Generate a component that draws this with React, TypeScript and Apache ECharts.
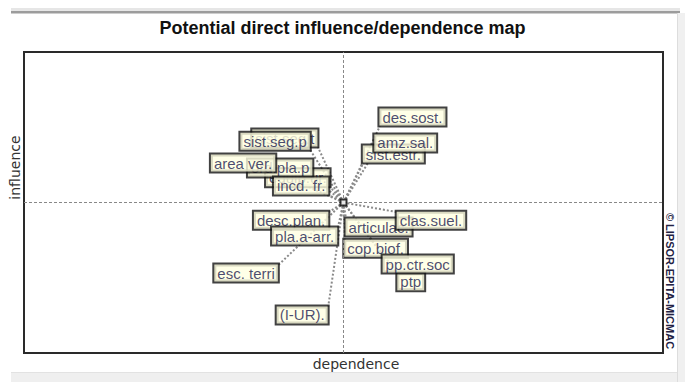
import React, { useEffect, useRef } from "react";
import * as echarts from "echarts";

// Variables (labels), dependence (x) and influence (y) positions of the label anchors
const variables = [
  "sist.seg.t", "sist.seg.p", "equip.ur.", "ord.pla.p", "area ver.", "incd. fr.",
  "des.sost.", "sist.estr.", "amz.sal.",
  "desc.plan.", "pla.a-arr.", "esc. terri", "(I-UR).",
  "articulac.", "clas.suel.", "cop.biof.", "ptp", "pp.ctr.soc",
];
const dependence = [
  46.0, 44.8, 47.9, 45.2, 39.4, 47.7,
  55.7, 53.1, 54.9,
  47.7, 49.1, 39.8, 47.6,
  50.4, 58.4, 50.2, 58.5, 56.2,
];
const influence = [
  68.4, 67.4, 55.2, 58.5, 60.1, 52.5,
  75.4, 63.1, 66.8,
  46.8, 41.5, 29.2, 15.3,
  44.5, 46.8, 37.5, 26.3, 32.2,
];
const centerDependence = 50;
const centerInfluence = 50;
const axisMin = 0;
const axisMax = 100;

const LABEL_FONT = "'Liberation Sans', Arial, sans-serif";
const AXIS_FONT = "'DejaVu Sans', Verdana, sans-serif";

export default function App() {
  const ref = useRef<HTMLDivElement>(null);
  useEffect(() => {
    if (!ref.current) return;
    const chart = echarts.init(ref.current, null, { renderer: "svg" });

    const labelData = variables.map((name, i) => {
      const right = dependence[i] >= centerDependence;
      const up = influence[i] >= centerInfluence;
      return {
        name,
        value: [dependence[i], influence[i]],
        label: {
          align: right ? "left" : "right",
          verticalAlign: up ? "bottom" : "top",
        },
      };
    });

    const lineData = variables.map((_, i) => ({
      coords: [
        [centerDependence, centerInfluence],
        [dependence[i], influence[i]],
      ],
    }));

    chart.setOption({
      animation: false,
      backgroundColor: "#ffffff",
      title: {
        text: "Potential direct influence/dependence map",
        left: "center",
        top: 14,
        textStyle: {
          fontFamily: LABEL_FONT,
          fontSize: 18,
          fontWeight: "bold",
          color: "#111111",
        },
      },
      grid: {
        left: 24,
        top: 52,
        width: 639,
        height: 301,
        show: true,
        borderColor: "#2a2a2a",
        borderWidth: 2,
        backgroundColor: "#ffffff",
      },
      xAxis: {
        type: "value",
        min: axisMin,
        max: axisMax,
        name: "dependence",
        nameLocation: "middle",
        nameGap: 4,
        nameTextStyle: {
          fontFamily: AXIS_FONT,
          fontSize: 14,
          color: "#333333",
          padding: [0, 0, 0, 25],
        },
        axisLine: { show: false },
        axisTick: { show: false },
        axisLabel: { show: false },
        splitLine: { show: false },
      },
      yAxis: {
        type: "value",
        min: axisMin,
        max: axisMax,
        name: "influence",
        nameLocation: "middle",
        nameGap: 2,
        nameTextStyle: {
          fontFamily: AXIS_FONT,
          fontSize: 14,
          color: "#333333",
          padding: [0, 0, 0, 70],
        },
        axisLine: { show: false },
        axisTick: { show: false },
        axisLabel: { show: false },
        splitLine: { show: false },
      },
      graphic: [
        { type: "rect", silent: true, shape: { x: 11, y: 8, width: 669, height: 3 }, style: { fill: "#e6e6e6" } },
        { type: "rect", silent: true, shape: { x: 11, y: 11, width: 669, height: 2.5 }, style: { fill: "#9c9c9c" } },
        { type: "rect", silent: true, shape: { x: 677, y: 13, width: 8, height: 369 }, style: { fill: "#f0f0f0" } },
        { type: "rect", silent: true, shape: { x: 677, y: 13, width: 1, height: 369 }, style: { fill: "#dddddd" } },
        { type: "rect", silent: true, shape: { x: 11, y: 372, width: 666, height: 1 }, style: { fill: "#e2e2e2" } },
        { type: "rect", silent: true, shape: { x: 11, y: 373, width: 666, height: 9 }, style: { fill: "#efefef" } },
        {
          type: "text",
          silent: true,
          x: 670,
          y: 281,
          rotation: -Math.PI / 2,
          style: {
            text: "© LIPSOR-EPITA-MICMAC",
            fontFamily: LABEL_FONT,
            fontSize: 11,
            fontWeight: "bold",
            fill: "#222244",
            align: "center",
            verticalAlign: "middle",
          },
        },
      ],
      series: [
        {
          type: "lines",
          coordinateSystem: "cartesian2d",
          silent: true,
          z: 2,
          symbol: ["none", "none"],
          lineStyle: { color: "#8a8a8a", width: 2, type: "dotted", opacity: 1 },
          data: lineData,
        },
        {
          type: "scatter",
          silent: true,
          z: 3,
          symbolSize: 1,
          itemStyle: { color: "rgba(0,0,0,0)" },
          label: {
            show: true,
            formatter: "{b}",
            position: [0, 0],
            fontFamily: LABEL_FONT,
            fontSize: 15,
            lineHeight: 15,
            color: "#1c1c50",
            backgroundColor: "#ffffe1",
            borderColor: "#111111",
            borderWidth: 2,
            padding: [1, 3, 1, 3],
          },
          data: labelData,
        },
        {
          type: "scatter",
          silent: true,
          z: 5,
          symbol: "rect",
          symbolSize: 6,
          itemStyle: { color: "#ffffff", borderColor: "#000000", borderWidth: 2 },
          data: [[centerDependence, centerInfluence]],
          markLine: {
            silent: true,
            symbol: ["none", "none"],
            label: { show: false },
            lineStyle: { color: "#888888", width: 1, type: [3, 2] },
            data: [{ xAxis: centerDependence }, { yAxis: centerInfluence }],
          },
        },
      ],
    });
    return () => chart.dispose();
  }, []);
  return (
    <div
      ref={ref}
      style={{ position: "fixed", left: 0, top: 0, width: 685, height: 382, background: "#fff" }}
    />
  );
}
